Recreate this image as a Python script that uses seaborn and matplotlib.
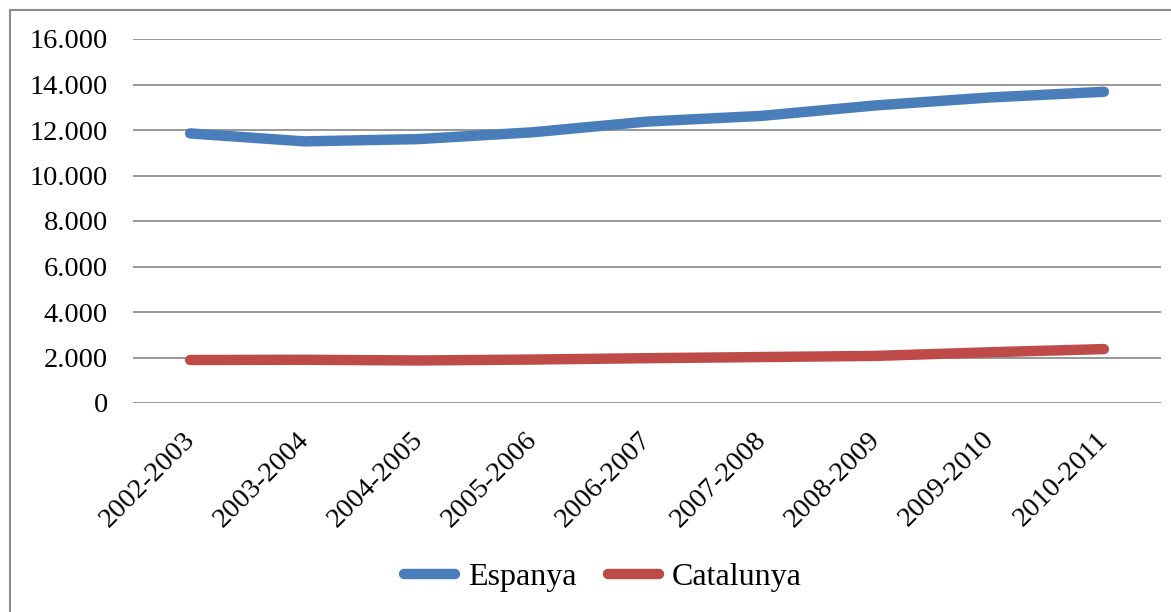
import matplotlib
matplotlib.use("Agg")
import matplotlib.pyplot as plt
import matplotlib.transforms as mtransforms
from matplotlib.patches import Rectangle
import seaborn as sns
import pandas as pd

categories = ["2002-2003", "2003-2004", "2004-2005", "2005-2006", "2006-2007",
              "2007-2008", "2008-2009", "2009-2010", "2010-2011"]
espanya = [11850, 11500, 11600, 11900, 12370, 12620, 13080, 13430, 13680]
catalunya = [1890, 1900, 1870, 1910, 1970, 2020, 2070, 2230, 2370]
series_names = ["Espanya", "Catalunya"]
colors = ["#4A7EBB", "#BE4B48"]
yticks = [0, 2000, 4000, 6000, 8000, 10000, 12000, 14000, 16000]
ytick_labels = ["0", "2.000", "4.000", "6.000", "8.000", "10.000", "12.000", "14.000", "16.000"]

sns.set_theme(style="white")
plt.rcParams['font.family'] = ['Liberation Serif', 'DejaVu Serif']
plt.rcParams['text.color'] = 'black'
plt.rcParams['xtick.color'] = 'black'
plt.rcParams['ytick.color'] = 'black'

FS_TICK = 20.5
FS_LEG = 23
W, H = 1171, 612
fig = plt.figure(figsize=(W / 100, H / 100), dpi=100)
ax = fig.add_axes([133 / W, 1 - 403 / H, (1161 - 133) / W, (403 - 39) / H])

df = pd.DataFrame({
    "period": categories * 2,
    "value": espanya + catalunya,
    "series": [series_names[0]] * len(categories) + [series_names[1]] * len(categories),
})
df["x"] = list(range(len(categories))) * 2

sns.lineplot(data=df, x="x", y="value", hue="series", palette=colors,
             linewidth=7.5, ax=ax, sort=False)
for ln in ax.get_lines():
    ln.set_solid_capstyle("round")
    ln.set_solid_joinstyle("round")

ax.set_xlim(-0.5, len(categories) - 0.5)
ax.set_ylim(0, 16000)
ax.set_yticks(yticks)
ax.set_yticklabels(ytick_labels, fontsize=FS_TICK, color="black")
ax.set_xticks(range(len(categories)))
ax.set_xticklabels([])
# category labels placed at each category position, rotated 45 degrees
offset = mtransforms.ScaledTranslation(-8 / 100, -24 / 100, fig.dpi_scale_trans)
xform = ax.get_xaxis_transform() + offset
for i, cat in enumerate(categories):
    ax.text(i, 0, cat, transform=xform, fontsize=FS_TICK, rotation=45,
            ha="right", va="top", rotation_mode="anchor", color="black",
            clip_on=False)
ax.tick_params(axis="y", length=0, pad=18)
ax.tick_params(axis="x", length=0, pad=4)
ax.set_xlabel("")
ax.set_ylabel("")
ax.yaxis.grid(True, color="#868686", linewidth=1.2)
ax.xaxis.grid(False)
ax.set_axisbelow(True)
for s in ax.spines.values():
    s.set_visible(False)

leg = ax.legend(loc="center", bbox_to_anchor=(603 / W, 1 - 577 / H),
                bbox_transform=fig.transFigure, ncol=2, frameon=False,
                fontsize=FS_LEG, handlelength=1.6, handletextpad=0.4,
                columnspacing=1.0)
for h in leg.legend_handles:
    h.set_linewidth(7.5)
    h.set_solid_capstyle("round")
for t in leg.get_texts():
    t.set_color("black")

fig.patches.append(Rectangle((10 / W, -0.5), 2.0, 1.5 - 10 / H,
                             transform=fig.transFigure, fill=False,
                             edgecolor="#8c8c8c", linewidth=1.5))

fig.savefig("out.png", dpi=100, facecolor="white")
